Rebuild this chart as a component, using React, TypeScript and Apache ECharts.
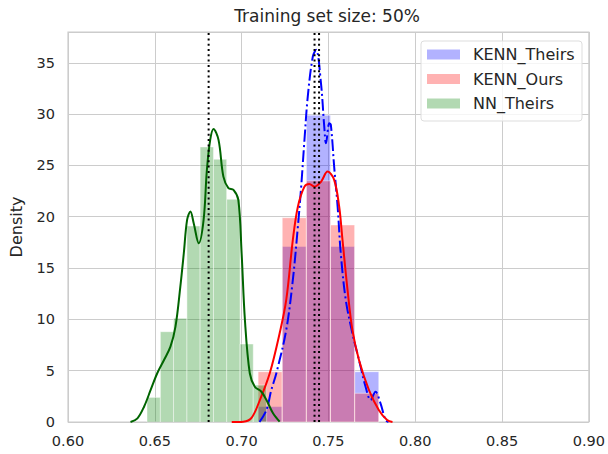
import React, { useEffect, useRef } from "react";
import * as echarts from "echarts";

const chartTitle = "Training set size: 50%";
const yAxisName = "Density";
const seriesNames = ["KENN_Theirs", "KENN_Ours", "NN_Theirs"];

// histogram bin edges and densities
const kennEdges = [0.7095, 0.7234, 0.7373, 0.7512, 0.7651, 0.779];
const kennTheirsHist = [1.5, 17.1, 29.9, 17.1, 4.9];
const kennOursHist = [4.9, 19.9, 23.5, 19.2, 2.8];
const nnEdges = [0.6455, 0.6532, 0.6608, 0.6685, 0.6761, 0.6838, 0.6914, 0.6991, 0.7067, 0.7144];
const nnTheirsHist = [2.4, 8.8, 10.1, 19.1, 26.8, 25.6, 21.7, 7.6, 3.6];

// KDE curves [x, density]
const kennTheirsKde: [number, number][] = [
  [0.7103, 0], [0.7143, 1.17], [0.7171, 3.12], [0.72, 4.75], [0.7257, 8.97], [0.7295, 13.84],
  [0.7324, 19.04], [0.7343, 22.93], [0.7362, 27.49], [0.7381, 31.71], [0.741, 35.6], [0.7429, 36.26],
  [0.7457, 33.01], [0.7476, 28.78], [0.7486, 27.16], [0.7505, 29.11], [0.7514, 28.95], [0.7533, 24.88],
  [0.7553, 20.98], [0.7571, 16.44], [0.76, 11.89], [0.7638, 8.65], [0.7676, 6.04], [0.7714, 3.44],
  [0.7743, 2.14], [0.7771, 2.95], [0.78, 1.82], [0.7829, 0.19], [0.7846, 0],
];
const kennOursKde: [number, number][] = [
  [0.6943, 0], [0.701, 0.03], [0.7057, 0.4], [0.7105, 2.14], [0.7162, 4.75], [0.7219, 8.65],
  [0.7257, 11.89], [0.7295, 17.74], [0.7324, 20.98], [0.7362, 22.93], [0.739, 23.2], [0.7419, 22.93],
  [0.7457, 23.4], [0.7495, 24.4], [0.7533, 23.59], [0.7562, 20.98], [0.7581, 17.74], [0.761, 12.87],
  [0.7638, 8.97], [0.7676, 6.04], [0.7733, 3.12], [0.779, 1.17], [0.7838, 0.19], [0.7869, 0],
];
const nnTheirsKde: [number, number][] = [
  [0.636, 0], [0.64, 0.36], [0.6438, 1.49], [0.6476, 3.12], [0.6514, 4.75], [0.6553, 6.04],
  [0.659, 7.34], [0.6619, 9.29], [0.6647, 13.19], [0.6667, 16.44], [0.6686, 19.69], [0.6705, 20.5],
  [0.6724, 19.37], [0.6753, 17.42], [0.6781, 19.69], [0.68, 24.56], [0.6819, 27.49], [0.6838, 28.56],
  [0.6867, 27.49], [0.6895, 23.91], [0.6924, 22.78], [0.6953, 22.61], [0.6981, 21.64], [0.7, 16.44],
  [0.7019, 9.94], [0.7047, 4.75], [0.7076, 3.44], [0.7114, 2.95], [0.7143, 2.14], [0.7181, 0.85],
  [0.7219, 0.03],
];

// means (dotted vertical lines)
const meanLines = [0.681, 0.742, 0.7446];

const FONT = "DejaVu Sans";
const TXT = "#262626";
const histColors = ["rgba(0,0,255,0.3)", "rgba(255,0,0,0.3)", "rgba(0,128,0,0.3)"];

function histSeries(name: string, edges: number[], values: number[], color: string) {
  return {
    type: "custom",
    name,
    data: values.map((v, i) => [edges[i], edges[i + 1], v]),
    encode: { x: [0, 1], y: 2 },
    itemStyle: { color },
    renderItem: (params: any, api: any) => {
      const p0 = api.coord([api.value(0), api.value(2)]);
      const p1 = api.coord([api.value(1), 0]);
      return {
        type: "rect",
        shape: { x: p0[0], y: p0[1], width: p1[0] - p0[0], height: p1[1] - p0[1] },
        style: { fill: color, stroke: "rgba(255,255,255,0.45)", lineWidth: 1 },
      };
    },
    z: 2,
  };
}

export default function App() {
  const ref = useRef<HTMLDivElement>(null);
  useEffect(() => {
    if (!ref.current) return;
    const chart = echarts.init(ref.current, null, { renderer: "svg" });
    const legendRows = seriesNames.map((n, i) => {
      const cy = 54.5 + i * 24.5;
      return [
        { type: "rect", shape: { x: 427, y: cy - 5, width: 33, height: 10 }, style: { fill: histColors[i] } },
        {
          type: "text",
          x: 473,
          y: cy,
          style: { text: n, fontSize: 16, fontFamily: FONT, fill: TXT, textVerticalAlign: "middle" },
        },
      ];
    }).flat();
    chart.setOption({
      animation: false,
      backgroundColor: "#ffffff",
      grid: { left: 65, right: 18, top: 32, bottom: 32, show: true, borderColor: "#cccccc", borderWidth: 1.2, backgroundColor: "transparent" },
      xAxis: {
        type: "value",
        min: 0.6,
        max: 0.9,
        interval: 0.05,
        axisLine: { show: false },
        axisTick: { show: false },
        splitLine: { show: true, lineStyle: { color: "#cccccc", width: 1 } },
        axisLabel: { formatter: (v: number) => v.toFixed(2), fontSize: 14.5, fontFamily: FONT, color: TXT, margin: 11 },
      },
      yAxis: {
        type: "value",
        min: 0,
        max: 38,
        interval: 5,
        name: yAxisName,
        nameLocation: "middle",
        nameGap: 44,
        nameTextStyle: { fontSize: 16, fontFamily: FONT, color: TXT },
        axisLine: { show: false },
        axisTick: { show: false },
        splitLine: { show: true, lineStyle: { color: "#cccccc", width: 1 } },
        axisLabel: {
          formatter: (v: number) => (Math.abs(v % 5) < 1e-9 ? String(v) : ""),
          fontSize: 14.5,
          fontFamily: FONT,
          color: TXT,
          margin: 13,
        },
      },
      graphic: [
        {
          type: "text",
          x: 327,
          y: 16,
          style: { text: chartTitle, fontSize: 17, fontFamily: FONT, fill: TXT, textAlign: "center", textVerticalAlign: "middle" },
        },
        {
          type: "rect",
          shape: { x: 421, y: 41, width: 161, height: 80, r: 3 },
          style: { fill: "rgba(255,255,255,0.8)", stroke: "#dddddd", lineWidth: 1 },
          z: 100,
        },
        ...legendRows.map((e: any) => ({ ...e, z: 101 })),
      ],
      series: [
        histSeries(seriesNames[0], kennEdges, kennTheirsHist, histColors[0]),
        histSeries(seriesNames[1], kennEdges, kennOursHist, histColors[1]),
        histSeries(seriesNames[2], nnEdges, nnTheirsHist, histColors[2]),
        {
          type: "line",
          name: seriesNames[0] + " KDE",
          data: kennTheirsKde,
          smooth: 0.35,
          showSymbol: false,
          lineStyle: { color: "#0000ff", width: 2, type: [12, 3.2, 2, 3.2] },
          z: 5,
        },
        {
          type: "line",
          name: seriesNames[1] + " KDE",
          data: kennOursKde,
          smooth: 0.35,
          showSymbol: false,
          lineStyle: { color: "#ff0000", width: 2 },
          z: 5,
        },
        {
          type: "line",
          name: seriesNames[2] + " KDE",
          data: nnTheirsKde,
          smooth: 0.35,
          showSymbol: false,
          lineStyle: { color: "#006400", width: 2 },
          z: 5,
        },
        ...meanLines.map((m, i) => ({
          type: "line",
          name: "mean " + i,
          data: [[m, 0], [m, 38]],
          showSymbol: false,
          lineStyle: { color: "#000000", width: 2, type: [2, 3.3] },
          z: 6,
        })),
      ],
    });
    return () => chart.dispose();
  }, []);
  return <div ref={ref} style={{ position: "fixed", left: 0, top: 0, width: 608, height: 454 }} />;
}
